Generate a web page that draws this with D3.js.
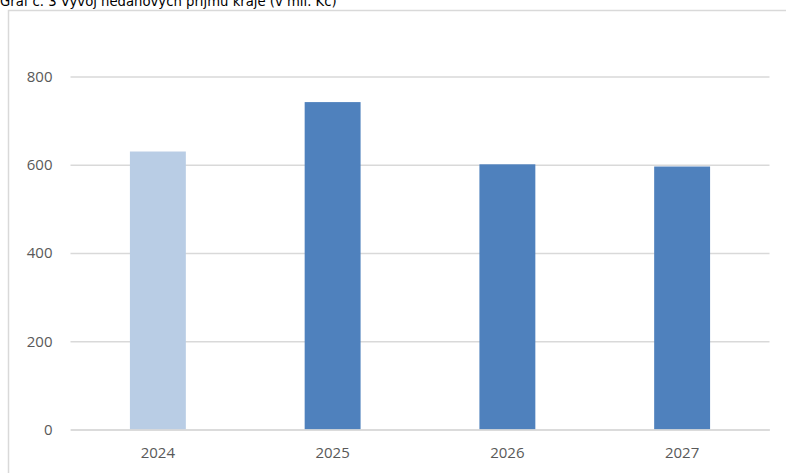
<!DOCTYPE html>
<html>
<head>
<meta charset="utf-8">
<script src="https://cdn.jsdelivr.net/npm/d3@7"></script>
<style>
  body { margin: 0; background: #fff; }
  svg { display: block; }
</style>
</head>
<body>
<svg id="chart"></svg>
<script>
// data
const years = ["2024", "2025", "2026", "2027"];
const values = [630, 742, 601, 596];
const barKind = ["skutecnost", "vyhled", "vyhled", "vyhled"];
const yTicks = [0, 200, 400, 600, 800];
const title = "Graf č. 3 Vývoj nedaňových příjmů kraje (v mil. Kč)";

let width = 786, height = 473;
let svg = d3.select("svg#chart").attr("width", width).attr("height", height);

let plot = { left: 70.5, right: 769.5, top: 76.5, bottom: 429.5 };

// chart frame (only top and left edges are visible in the crop)
svg.append("rect")
  .attr("x", 8.5).attr("y", 10.5)
  .attr("width", 900).attr("height", 600)
  .attr("fill", "none").attr("stroke", "#d9d9d9").attr("stroke-width", 1.5);

// title sits half outside the top edge, as in the source crop
svg.append("text")
  .attr("x", 0).attr("y", 6)
  .style("font-family", "'DejaVu Sans Condensed', 'DejaVu Sans', sans-serif")
  .style("font-size", "14.7px")
  .attr("fill", "#000")
  .text(title);

let xScale = d3.scaleBand().domain(years).range([plot.left, plot.right])
  .paddingInner(0.68).paddingOuter(0.34);
let yScale = d3.scaleLinear().domain([0, 800]).range([plot.bottom, plot.top]);
let color = d3.scaleOrdinal().domain(["skutecnost", "vyhled"]).range(["#b9cde5", "#4f81bd"]);

// gridlines
let yGrid = d3.axisLeft(yScale).tickValues(yTicks).tickSize(-(plot.right - plot.left)).tickFormat("");
let grid = svg.append("g")
  .attr("transform", "translate(" + plot.left + ",0)")
  .call(yGrid);
grid.select(".domain").remove();
grid.selectAll("line").attr("stroke", "#d9d9d9").attr("stroke-width", 1.3);

// y labels
let yAxis = d3.axisLeft(yScale).tickValues(yTicks).tickSize(0).tickPadding(18);
let yg = svg.append("g")
  .attr("transform", "translate(" + plot.left + ",0)")
  .call(yAxis);
yg.select(".domain").remove();
yg.selectAll("text")
  .style("font-family", "'Open Sans', sans-serif")
  .style("font-size", "15px")
  .attr("fill", "#595959");

// bars
svg.append("g").selectAll("rect")
  .data(years)
  .join("rect")
  .attr("x", d => xScale(d))
  .attr("y", (d, i) => yScale(values[i]))
  .attr("width", xScale.bandwidth())
  .attr("height", (d, i) => yScale(0) - yScale(values[i]))
  .attr("fill", (d, i) => color(barKind[i]));

// x axis
let xAxis = d3.axisBottom(xScale).tickSize(0).tickPadding(18);
let xg = svg.append("g")
  .attr("transform", "translate(0," + plot.bottom + ")")
  .call(xAxis);
xg.select(".domain").attr("stroke", "#d9d9d9").attr("stroke-width", 1.5);
xg.selectAll("text")
  .style("font-family", "'Open Sans', sans-serif")
  .style("font-size", "15px")
  .attr("fill", "#595959");
</script>
</body>
</html>
